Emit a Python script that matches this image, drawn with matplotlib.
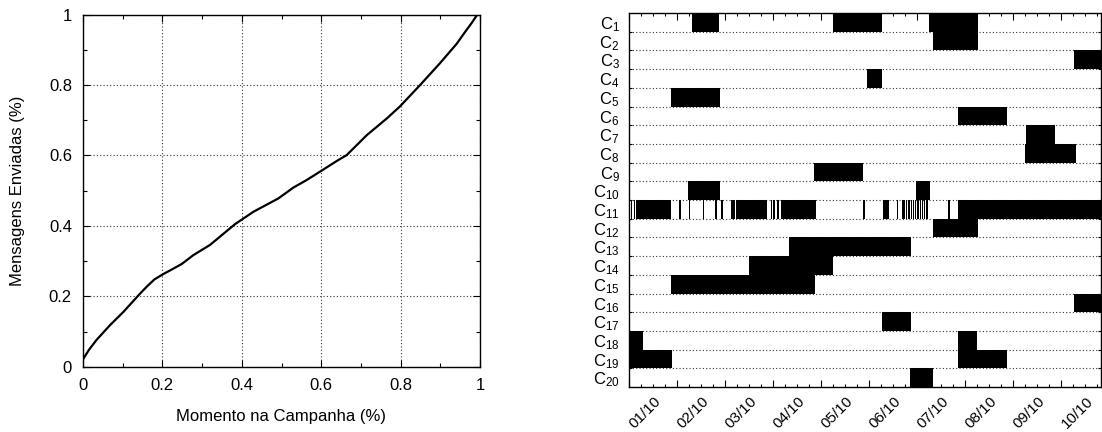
import numpy as np
import matplotlib.pyplot as plt
from matplotlib.ticker import MultipleLocator, FuncFormatter
from matplotlib.transforms import ScaledTranslation

plt.rcParams['font.family'] = 'Liberation Sans'
plt.rcParams['mathtext.fontset'] = 'custom'
plt.rcParams['mathtext.rm'] = 'Liberation Sans'
plt.rcParams['mathtext.default'] = 'regular'

# curva acumulada (esquerda)
momento = [0.0, 0.015, 0.034, 0.068, 0.102, 0.144, 0.162, 0.18, 0.202, 0.225, 0.249,
           0.278, 0.32, 0.383, 0.429, 0.492, 0.53, 0.563, 0.601, 0.64, 0.664, 0.69,
           0.715, 0.765, 0.798, 0.849, 0.899, 0.941, 0.965, 0.98, 0.993]
enviadas = [0.021, 0.048, 0.076, 0.118, 0.156, 0.208, 0.229, 0.248, 0.263, 0.277, 0.292,
            0.317, 0.346, 0.405, 0.44, 0.478, 0.509, 0.53, 0.557, 0.585, 0.601, 0.63,
            0.658, 0.705, 0.739, 0.80, 0.862, 0.917, 0.955, 0.978, 1.0]

# periodos de envio por campanha (dias desde 01/10 00:00)
dias = ['01/10', '02/10', '03/10', '04/10', '05/10',
        '06/10', '07/10', '08/10', '09/10', '10/10']
fim = 9.833
c11_cluster = [5.675, 5.71, 5.755, 5.81, 5.86, 5.9, 5.945, 5.997, 6.05, 6.09, 6.14, 6.185]
envios = [
    [(1.30, 1.875), (4.25, 5.26), (6.245, 7.26)],                       # C1
    [(6.333, 7.27)],                                                    # C2
    [(9.27, fim)],                                                      # C3
    [(4.946, 5.258)],                                                   # C4
    [(0.8625, 1.333), (1.333, 1.89)],                                   # C5
    [(6.842, 7.862)],                                                   # C6
    [(8.265, 8.869)],                                                   # C7
    [(8.244, 9.30)],                                                    # C8
    [(3.854, 4.875)],                                                   # C9
    [(1.217, 1.89), (5.967, 6.265)],                                    # C10
    [(0.035, 0.065), (0.0875, 0.117), (0.14, 0.879),
     (1.042, 1.075), (1.2375, 1.27), (1.529, 1.562), (1.78, 1.825), (1.91, 1.943),
     (2.125, 2.155), (2.17, 2.2), (2.223, 2.869), (2.946, 2.976), (3.004, 3.034),
     (3.075, 3.115), (3.154, 3.883),
     (4.879, 4.912), (5.275, 5.42), (5.567, 5.6)]
    + [(v, v + 0.03) for v in c11_cluster]
    + [(6.646, 6.679), (6.848, fim)],                                   # C11
    [(6.32, 7.27)],                                                     # C12
    [(3.333, 5.49), (5.49, 5.869)],                                     # C13
    [(2.5, 4.25)],                                                      # C14
    [(0.8625, 1.333), (1.333, 2.827), (2.827, 3.30), (3.30, 3.869)],    # C15
    [(9.27, fim)],                                                      # C16
    [(5.27, 5.869)],                                                    # C17
    [(0.0, 0.29), (6.848, 7.25)],                                       # C18
    [(0.0, 0.896), (6.848, 7.862)],                                     # C19
    [(5.848, 6.333)],                                                   # C20
]
n = len(envios)
campanhas = ['C$_{%d}$' % (i + 1) for i in range(n)]

fig = plt.figure(figsize=(11.02, 4.32), dpi=100)
W, H = 1102.0, 432.0
dots = (0, (1, 2))

# ---- esquerda
ax1 = fig.add_axes([83 / W, 1 - 366.7 / H, (480 - 83) / W, (366.7 - 14.7) / H])
ax1.plot(momento, enviadas, color='black', linewidth=1.6)
ax1.set_xlim(0, 1)
ax1.set_ylim(0, 1)
for axis in (ax1.xaxis, ax1.yaxis):
    axis.set_major_locator(MultipleLocator(0.2))
    axis.set_minor_locator(MultipleLocator(0.1))
    axis.set_major_formatter(FuncFormatter(lambda v, p: '%g' % round(v, 2)))
ax1.grid(True, which='major', linestyle=dots, color='0.2', linewidth=0.8)
ax1.tick_params(which='both', direction='in', top=True, right=True, width=0.8)
ax1.tick_params(which='major', length=5, labelsize=12, pad=8)
ax1.tick_params(which='minor', length=3)
ax1.set_xlabel('Momento na Campanha (%)', fontsize=12)
ax1.set_ylabel('Mensagens Enviadas (%)', fontsize=12)
ax1.xaxis.set_label_coords(0.5, -0.12)
ax1.yaxis.set_label_coords(-0.146, 0.5)
for s in ax1.spines.values():
    s.set_linewidth(1.0)

# ---- direita
ax2 = fig.add_axes([629.3 / W, 1 - 387 / H, (1101.3 - 629.3) / W, (387 - 13) / H])
for i, row in enumerate(envios):
    ax2.broken_barh([(s, e - s) for s, e in row], (n - i - 1, 1),
                    facecolors='black', edgecolor='none')
ax2.set_xlim(0, fim)
ax2.set_ylim(0, n)
ax2.set_axisbelow(True)
ax2.set_xticks(range(len(dias)), dias, rotation=45, ha='center', fontsize=11)
ax2.xaxis.set_minor_locator(MultipleLocator(0.25))
ax2.set_yticks(np.arange(n)[::-1] + 0.5, campanhas, fontsize=12)
ax2.set_yticks(np.arange(1, n), minor=True)
ax2.grid(True, axis='y', which='minor', linestyle=dots, color='0.2', linewidth=0.8)
ax2.tick_params(axis='x', which='both', direction='in', top=True, bottom=True, width=0.8)
ax2.tick_params(axis='x', which='major', length=5, pad=5)
ax2.tick_params(axis='x', which='minor', length=2.5)
ax2.tick_params(axis='y', which='major', length=0, pad=7)
ax2.tick_params(axis='y', which='minor', direction='in', left=True, right=True,
                length=2.5, width=0.8)
for lab in ax2.get_xticklabels():
    lab.set_transform(lab.get_transform() + ScaledTranslation(0.16, 0, fig.dpi_scale_trans))
for s in ax2.spines.values():
    s.set_linewidth(1.0)

fig.savefig('out.png', dpi=100)
